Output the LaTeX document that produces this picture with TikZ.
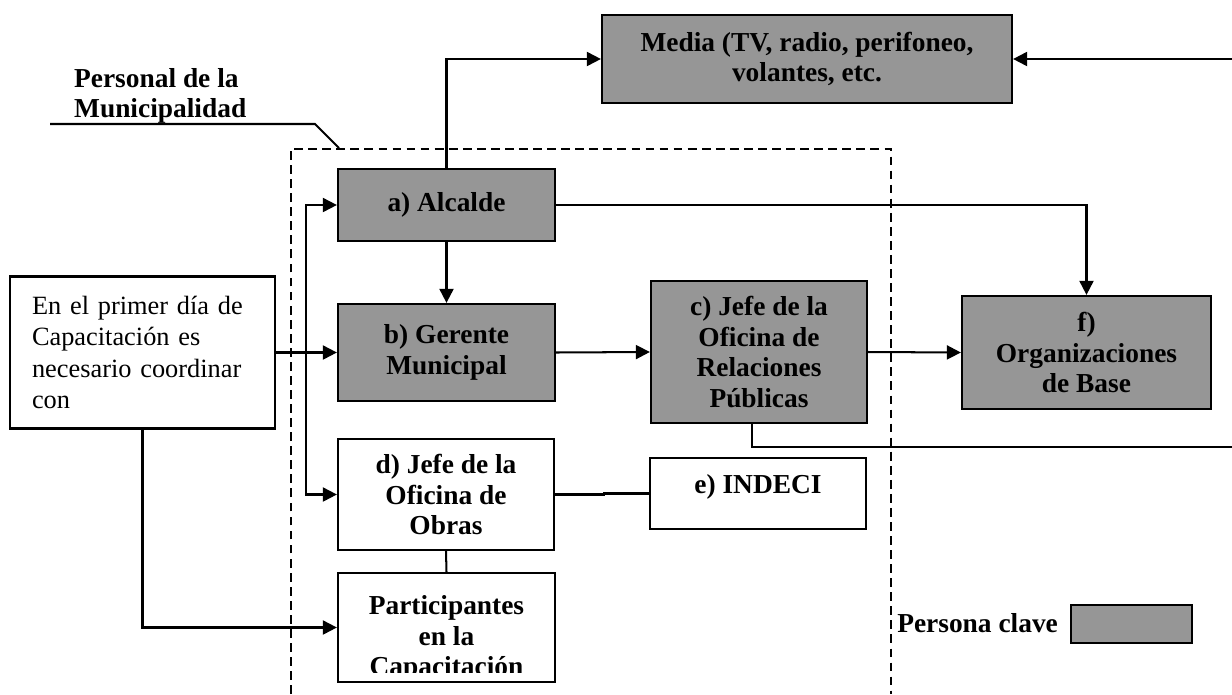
\documentclass[tikz,border=0pt]{standalone}
\usepackage{fontspec}
\setmainfont{Liberation Serif}
\usepackage{tikz}
\usetikzlibrary{arrows.meta,positioning,calc}
\definecolor{keygray}{RGB}{150,150,150}
\tikzset{
 box/.style={draw,line width=1.3pt,inner sep=0pt,align=center,
  font=\fontsize{15.6pt}{17.5pt}\selectfont\bfseries},
 keybox/.style={box,fill=keygray},
 link/.style={line width=1.15pt},
 arr/.style={link,-{Triangle[length=8pt,width=8pt]}},
 frame/.style={line width=0.9pt,dash pattern=on 5pt off 3pt}
}

\begin{document}
\begin{tikzpicture}[x=0.02cm,y=-0.02cm]
\useasboundingbox (0,0) rectangle (1232,694);
% boxes
\node[keybox,minimum width=8.2cm,minimum height=1.76cm] (media) at (807,59) {Media (TV, radio, perifoneo,\\volantes, etc.};
\node[keybox,minimum width=4.34cm,minimum height=1.44cm] (alc) at (446.5,205) {a) Alcalde};
\node[keybox,minimum width=4.34cm,minimum height=1.94cm] (ger) at (446.5,352.5) {b) Gerente\\Municipal};
\node[keybox,minimum width=4.32cm,minimum height=2.84cm] (rrpp) at (759,352) {c) Jefe de la\\Oficina de\\Relaciones\\Públicas};
\node[keybox,minimum width=4.98cm,minimum height=2.26cm] (org) at (1086.5,352.5) {f)\\Organizaciones\\de Base};
\node[box,font=\fontsize{15pt}{18pt}\selectfont,align=left,text width=4.42cm,inner xsep=0.44cm,minimum height=3.04cm] (intro) at (142.5,352.5) {En el primer día de\\Capacitación es\\necesario coordinar\\con};
\node[box,minimum width=4.32cm,minimum height=2.22cm] (obras) at (446,494.5) {d) Jefe de la\\Oficina de\\Obras};
\node[box,minimum width=4.32cm,minimum height=1.42cm,text depth=10.5pt] (indeci) at (758,493.5) {e) INDECI};
\node[box,minimum width=4.34cm,minimum height=2.18cm] (part) at (446.5,627.5) {};
\begin{scope}
 \clip (part.north west) rectangle ([yshift=0.22cm]part.south east);
 \node[box,draw=none] (parttxt) at ([yshift=-0.22cm]part.center) {Participantes\\en la\\Capacitación};
\end{scope}
% legend and title
\node[keybox,minimum width=2.42cm,minimum height=0.76cm] (keysw) at (1131.5,624) {};
\node[box,draw=none,anchor=base east] (keylbl) at (1059,632) {Persona clave};
\node[box,draw=none,align=left,anchor=north west] (staff) at (73,67) {Personal de la\\Municipalidad};
\coordinate (uline) at (50,124);
\draw[link] (uline) -- ++(265,0) -- ++(24,24);
\draw[frame] (291,694) |- (891,149) -- (891,694);
% connectors
\coordinate (rin) at (1232,59);
\coordinate (rout) at (1232,447);
\coordinate (fork) at (306,352.5);
\draw[arr] (alc.north) |- (media.west);
\draw[arr] (rin) -- (media.east);
\draw[arr] (alc.east) -| (org.north);
\draw[arr] (alc.south) -- (ger.north);
\draw[arr] (intro.east) -- (ger.west);
\draw[arr] (fork) |- (alc.west);
\draw[arr] (fork) |- (obras.west);
\draw[arr] (ger.east) -- (rrpp.west);
\draw[arr] (rrpp.east) -- (org.west);
\draw[link] ([xshift=-0.14cm]rrpp.south) |- (rout);
\draw[link] (obras.east) -- ++(49,0) |- (indeci.west);
\draw[link] (obras.south) -- (part.north);
\draw[arr] (intro.south) |- (part.west);
\end{tikzpicture}
\end{document}
